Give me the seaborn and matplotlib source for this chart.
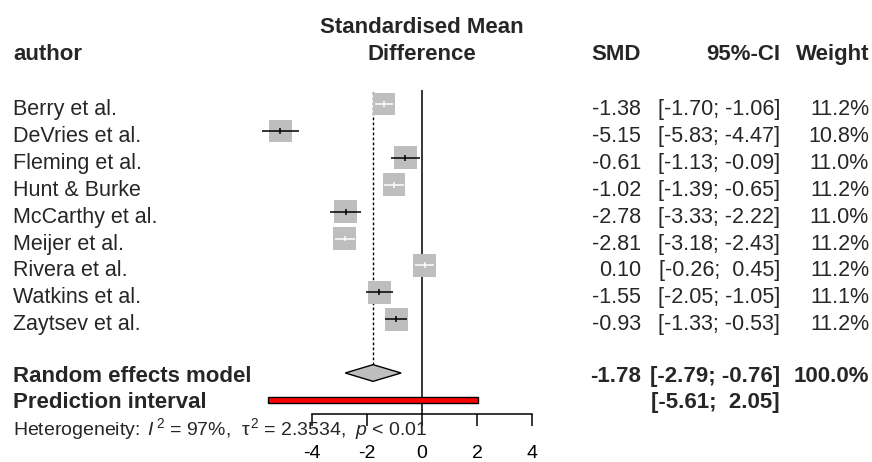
import numpy as np
import pandas as pd
import matplotlib
matplotlib.use("Agg")
import matplotlib.pyplot as plt
import seaborn as sns
from matplotlib.transforms import blended_transform_factory

# ---------------- data ----------------
authors = ["Berry et al.", "DeVries et al.", "Fleming et al.", "Hunt & Burke",
           "McCarthy et al.", "Meijer et al.", "Rivera et al.", "Watkins et al.",
           "Zaytsev et al."]
smd = [-1.38, -5.15, -0.61, -1.02, -2.78, -2.81, 0.10, -1.55, -0.93]
ci_low = [-1.70, -5.83, -1.13, -1.39, -3.33, -3.18, -0.26, -2.05, -1.33]
ci_high = [-1.06, -4.47, -0.09, -0.65, -2.22, -2.43, 0.45, -1.05, -0.53]
weights = [11.2, 10.8, 11.0, 11.2, 11.0, 11.2, 11.2, 11.1, 11.2]
re_smd, re_low, re_high, re_weight = -1.78, -2.79, -0.76, 100.0
pi_low, pi_high = -5.61, 2.05
x_ticks = [-4, -2, 0, 2, 4]
het_text = (r"Heterogeneity: $\,I^{\,2}\;\!=\;\!\mathrm{97\%,}\;\,\mathrm{\tau}^{\,2}"
            r"\;\!=\;\!\mathrm{2.3534,}\;\,p\;\!<\;\!\mathrm{0.01}$")

# ---------------- style ----------------
sns.set_theme(style="white")
plt.rcParams["font.family"] = ["Liberation Sans", "DejaVu Sans"]
plt.rcParams["mathtext.fontset"] = "custom"
plt.rcParams["mathtext.rm"] = "Liberation Sans"
plt.rcParams["mathtext.it"] = "Liberation Sans:italic"
plt.rcParams["mathtext.bf"] = "Liberation Sans:bold"

W, H, DPI = 872, 462, 100
PX_UNIT = 27.5          # pixels per SMD unit
X0 = 422                # pixel of SMD = 0
ROW0, ROW_PX = 104, 26.9


def yrow(py):
    return (py - ROW0) / ROW_PX


FS = 15.5
FS_B = 16
FS_SMALL = 14.0
GRAY = "#BEBEBE"

fig = plt.figure(figsize=(W / DPI, H / DPI), dpi=DPI)
ax = fig.add_axes([0, 0, 1, 1])
ax.set_xlim(-X0 / PX_UNIT, (W - X0) / PX_UNIT)
ax.set_ylim(yrow(H), yrow(0))

rows = np.arange(len(authors))
re_row = len(authors) + 1
pi_row = len(authors) + 2

# squares (area proportional to weight)
side_units = 0.83
inside_units = 0.78
wmax = max(weights)
sides_pt = [side_units * np.sqrt(w / wmax) * PX_UNIT * 72 / DPI for w in weights]
df = pd.DataFrame({"smd": smd, "row": rows, "area": [s ** 2 for s in sides_pt],
                   "lo": ci_low, "hi": ci_high, "w": weights})
amax = df["area"].max()
sns.scatterplot(data=df, x="smd", y="row", size="area", sizes=(0, amax),
                size_norm=(0, amax), marker="s", color=GRAY, linewidth=0,
                legend=False, ax=ax, zorder=3)

# CI lines: white when inside square, black otherwise
inside = [inside_units * np.sqrt(w / wmax) for w in weights]
line_cols = ["white" if (h - l) < s else "black"
             for l, h, s in zip(ci_low, ci_high, inside)]
ax.hlines(rows, ci_low, ci_high, colors=line_cols, linewidth=1.1, zorder=4)
ax.vlines(smd, rows - 0.11, rows + 0.11, colors=line_cols, linewidth=1.1, zorder=4)

# reference lines
ax.vlines(0, yrow(90), yrow(414), color="black", linewidth=1.1, zorder=2)
ax.vlines(re_smd, yrow(92), re_row, color="black", linewidth=1.0,
          linestyles=(0, (2, 1.6)), zorder=1)

# diamond for random effects model
dh = 0.31
ax.fill([re_low, re_smd, re_high, re_smd],
        [re_row, re_row - dh, re_row, re_row + dh],
        facecolor=GRAY, edgecolor="black", linewidth=1.0, zorder=5)

# prediction interval bar
ax.barh([pi_row], [pi_high - pi_low], left=[pi_low], height=0.22,
        color="red", edgecolor="black", linewidth=1.0, zorder=5)

# axis
for sp in ["top", "left", "right"]:
    ax.spines[sp].set_visible(False)
ax.spines["bottom"].set_position(("data", yrow(414)))
ax.spines["bottom"].set_bounds(min(x_ticks), max(x_ticks))
ax.spines["bottom"].set_color("black")
ax.spines["bottom"].set_linewidth(1.1)
ax.set_xticks(x_ticks)
ax.set_xticklabels([str(t) for t in x_ticks])
ax.tick_params(axis="x", direction="out", length=8.6, width=1.1, pad=13.5,
               labelsize=FS_SMALL, bottom=True, colors="black")
ax.set_yticks([])
ax.set_xlabel("")
ax.set_ylabel("")
ax.patch.set_alpha(0)

# ---------------- text columns ----------------
tr = blended_transform_factory(fig.transFigure, ax.transData)
x_author = 13 / W
x_smd = 641 / W
x_ci = 780 / W
x_w = 869 / W

hdr1, hdr2 = yrow(33), yrow(60)
ax.text(x_author, hdr2, "author", transform=tr, ha="left", va="baseline",
        fontsize=FS_B, fontweight="bold")
ax.text(0, hdr1, "Standardised Mean", ha="center", va="baseline",
        fontsize=FS_B, fontweight="bold")
ax.text(0, hdr2, "Difference", ha="center", va="baseline",
        fontsize=FS_B, fontweight="bold")
ax.text(x_smd, hdr2, "SMD", transform=tr, ha="right", va="baseline",
        fontsize=FS_B, fontweight="bold")
ax.text(x_ci, hdr2, "95%-CI", transform=tr, ha="right", va="baseline",
        fontsize=FS_B, fontweight="bold")
ax.text(x_w, hdr2, "Weight", transform=tr, ha="right", va="baseline",
        fontsize=FS_B, fontweight="bold")

base_off = 0.41
for r, a, m, lo, hi, w in zip(rows, authors, smd, ci_low, ci_high, weights):
    yb = r + base_off
    ax.text(x_author, yb, a, transform=tr, ha="left", va="baseline", fontsize=FS)
    ax.text(x_smd, yb, f"{m:.2f}", transform=tr, ha="right", va="baseline", fontsize=FS)
    ax.text(x_ci, yb, f"[{lo:5.2f}; {hi:5.2f}]", transform=tr, ha="right",
            va="baseline", fontsize=FS)
    ax.text(x_w, yb, f"{w:.1f}%", transform=tr, ha="right", va="baseline", fontsize=FS)

yb = yrow(382)
ax.text(x_author, yb, "Random effects model", transform=tr, ha="left",
        va="baseline", fontsize=FS_B, fontweight="bold")
ax.text(x_smd, yb, f"{re_smd:.2f}", transform=tr, ha="right", va="baseline",
        fontsize=FS_B, fontweight="bold")
ax.text(x_ci, yb, f"[{re_low:5.2f}; {re_high:5.2f}]", transform=tr, ha="right",
        va="baseline", fontsize=FS_B, fontweight="bold")
ax.text(x_w, yb, f"{re_weight:.1f}%", transform=tr, ha="right", va="baseline",
        fontsize=FS_B, fontweight="bold")

yb = yrow(408)
ax.text(x_author, yb, "Prediction interval", transform=tr, ha="left",
        va="baseline", fontsize=FS_B, fontweight="bold")
ax.text(x_ci, yb, f"[{pi_low:5.2f}; {pi_high:5.2f}]", transform=tr, ha="right",
        va="baseline", fontsize=FS_B, fontweight="bold")

ax.text(x_author, yrow(435), het_text, transform=tr, ha="left", va="baseline",
        fontsize=FS_SMALL, zorder=6)

fig.savefig("out.png", dpi=DPI, facecolor="white")
